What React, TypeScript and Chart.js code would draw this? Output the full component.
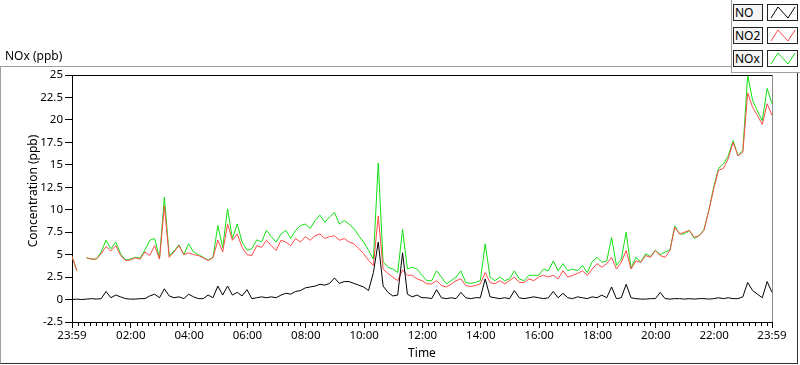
import React, { useEffect, useRef } from 'react';
import { Chart, registerables } from 'chart.js';

Chart.register(...registerables);

// Samples every 10 minutes starting at 23:59 of the previous day (minute 0) up to 23:59 (minute 1440)
const SAMPLE_MINUTES = 10;

const NO = [
  0.0, 0.05, 0.0, 0.05, 0.1, 0.05, 0.1, 0.9, 0.2, 0.5,
  0.3, 0.1, 0.05, 0.05, 0.1, 0.1, 0.4, 0.6, 0.2, 1.2,
  0.4, 0.2, 0.3, 0.1, 0.6, 0.3, 0.1, 0.1, 0.5, 0.2,
  1.5, 0.5, 1.5, 0.5, 0.8, 0.4, 1.1, 0.1, 0.2, 0.3,
  0.2, 0.3, 0.2, 0.5, 0.7, 0.6, 0.9, 1.0, 1.3, 1.4,
  1.5, 1.7, 1.6, 1.8, 2.4, 1.8, 2.0, 2.0, 1.8, 1.6,
  1.4, 1.0, 3.0, 6.4, 1.5, 0.8, 0.4, 0.5, 5.2, 0.6,
  0.3, 0.5, 0.2, 0.2, 0.1, 1.1, 0.2, 0.1, 0.2, 0.1,
  0.8, 0.2, 0.1, 0.2, 0.2, 2.3, 0.3, 0.2, 0.1, 0.2,
  0.1, 1.0, 0.2, 0.1, 0.2, 0.3, 0.2, 0.1, 0.2, 0.9,
  0.2, 0.7, 0.2, 0.1, 0.3, 0.2, 0.1, 0.3, 0.2, 0.5,
  0.2, 1.4, 0.1, 0.2, 1.7, 0.2, 0.1, 0.05, 0.05, 0.1,
  0.1, 0.8, 0.1, 0.05, 0.1, 0.1, 0.05, 0.1, 0.05, 0.1,
  0.1, 0.05, 0.1, 0.2, 0.1, 0.2, 0.1, 0.1, 0.3, 1.9,
  1.0, 0.6, 0.2, 2.0, 0.8,
];

const NO2 = [
  4.8, 3.2, null, 4.65, 4.5, 4.5, 5.1, 5.9, 5.4, 6.0,
  4.9, 4.35, 4.4, 4.65, 4.5, 5.3, 4.9, 6.0, 4.5, 10.4,
  4.7, 5.3, 6.0, 5.0, 5.2, 5.0, 4.9, 4.65, 4.35, 4.65,
  6.6, 5.3, 8.4, 6.6, 7.3, 5.8, 5.0, 4.9, 6.0, 5.8,
  6.6, 6.0, 5.46, 6.6, 6.4, 6.0, 6.8, 6.4, 7.0, 6.6,
  7.1, 7.3, 6.8, 7.0, 7.1, 6.6, 6.8, 6.4, 6.2, 5.65,
  5.1, 4.35, 3.8, 9.3, 3.4, 2.9, 2.5, 2.1, 3.3, 2.7,
  2.7, 2.3, 2.1, 1.75, 1.75, 2.1, 1.56, 1.4, 1.7, 2.1,
  2.3, 1.56, 1.45, 1.56, 1.75, 3.0, 1.9, 1.75, 2.1, 1.75,
  2.1, 2.5, 1.9, 1.9, 2.3, 2.1, 2.5, 2.7, 2.5, 2.7,
  2.3, 3.2, 2.5, 2.7, 2.9, 3.2, 2.7, 3.4, 4.0, 3.6,
  4.0, 4.7, 3.4, 4.15, 5.45, 3.4, 4.3, 4.15, 4.9, 4.7,
  5.45, 4.9, 4.7, 5.45, 8.05, 7.3, 7.5, 7.7, 6.94, 7.1,
  7.7, 9.9, 12.3, 14.4, 14.6, 15.7, 17.5, 16.0, 16.4, 23.0,
  21.4, 20.5, 19.5, 21.8, 20.5,
];

const NOX = [
  4.8, 3.2, null, 4.65, 4.5, 4.5, 5.3, 6.6, 5.65, 6.4,
  5.1, 4.4, 4.5, 4.7, 4.6, 5.5, 6.6, 6.8, 4.6, 11.4,
  4.9, 5.4, 6.1, 5.0, 6.2, 5.3, 5.0, 4.7, 4.4, 4.7,
  8.25, 5.8, 10.1, 6.8, 8.4, 6.4, 5.5, 5.65, 6.65, 6.4,
  7.7, 7.0, 6.4, 7.3, 7.7, 6.8, 7.7, 8.25, 8.4, 7.9,
  8.8, 9.4, 8.6, 9.2, 9.7, 8.4, 8.8, 8.4, 7.9, 7.1,
  6.4, 5.5, 4.5, 15.2, 4.2, 3.6, 3.4, 3.0, 7.8, 3.4,
  3.6, 3.4, 2.7, 2.1, 2.1, 3.2, 2.5, 1.75, 2.1, 2.5,
  3.2, 1.9, 1.8, 1.9, 2.1, 6.2, 2.5, 2.1, 2.5, 2.1,
  2.3, 3.2, 2.3, 2.1, 2.7, 2.7, 2.7, 3.4, 3.2, 4.3,
  3.2, 4.0, 3.2, 3.4, 3.2, 3.8, 3.0, 4.2, 4.7, 4.15,
  4.3, 6.9, 3.8, 4.5, 7.5, 3.5, 4.7, 4.2, 5.1, 4.8,
  5.5, 5.0, 5.3, 5.5, 8.2, 7.3, 7.3, 7.7, 6.8, 7.1,
  7.8, 9.9, 12.5, 14.6, 15.1, 16.0, 17.7, 16.0, 16.6, 25.0,
  22.2, 21.0, 19.9, 23.5, 21.8,
];

const X_TICK_MINUTES = [0, 121, 241, 361, 481, 601, 721, 841, 961, 1081, 1201, 1321, 1440];
const X_TICK_LABELS = ['23:59', '02:00', '04:00', '06:00', '08:00', '10:00', '12:00', '14:00', '16:00', '18:00', '20:00', '22:00', '23:59'];
const MINOR_TICK_STEP = 12;
const Y_MIN = -2.5;
const Y_MAX = 25;
const Y_STEP = 2.5;

const SERIES_NAMES = ['NO', 'NO2', 'NOx'];
const SERIES_COLORS = ['#000000', '#ff4848', '#12e012'];

const FONT = '"Noto Sans", "Open Sans", sans-serif';

const toPoints = (arr: (number | null)[]) => arr.map((v, i) => ({ x: i * SAMPLE_MINUTES, y: v }));

const framePlugin = {
  id: 'framePlugin',
  afterDraw(chart: any) {
    const ctx = chart.ctx;
    const xs = chart.scales.x;
    const a = chart.chartArea;
    ctx.save();
    ctx.lineWidth = 1;
    ctx.strokeStyle = '#000';
    for (let m = 1; m < 1440; m += MINOR_TICK_STEP) {
      if (X_TICK_MINUTES.some((t) => Math.abs(t - m) < 6)) continue;
      const px = Math.round(xs.getPixelForValue(m)) + 0.5;
      ctx.beginPath();
      ctx.moveTo(px, a.bottom);
      ctx.lineTo(px, a.bottom + 4);
      ctx.stroke();
    }
    ctx.beginPath();
    ctx.moveTo(a.left, Math.round(a.top) + 0.5);
    ctx.lineTo(a.right, Math.round(a.top) + 0.5);
    ctx.stroke();
    ctx.strokeStyle = '#8a8a8a';
    ctx.beginPath();
    ctx.moveTo(Math.round(a.right) + 0.5, a.top);
    ctx.lineTo(Math.round(a.right) + 0.5, a.bottom);
    ctx.stroke();
    ctx.restore();
  },
};

function LegendIcon({ color }: { color: string }) {
  return (
    <svg width="28" height="15" style={{ display: 'block' }}>
      <polyline points="2,13 9,2 19,13 26,2" fill="none" stroke={color} strokeWidth="1" />
    </svg>
  );
}

export default function App() {
  const canvasRef = useRef<HTMLCanvasElement | null>(null);

  useEffect(() => {
    if (!canvasRef.current) return;
    const chart = new Chart(canvasRef.current, {
      type: 'line',
      data: {
        datasets: [
          { label: SERIES_NAMES[0], data: toPoints(NO), borderColor: SERIES_COLORS[0], borderWidth: 1, pointRadius: 0, tension: 0, spanGaps: false },
          { label: SERIES_NAMES[1], data: toPoints(NO2), borderColor: SERIES_COLORS[1], borderWidth: 1, pointRadius: 0, tension: 0, spanGaps: false },
          { label: SERIES_NAMES[2], data: toPoints(NOX), borderColor: SERIES_COLORS[2], borderWidth: 1, pointRadius: 0, tension: 0, spanGaps: false },
        ],
      },
      options: {
        animation: false,
        responsive: false,
        devicePixelRatio: 1,
        layout: { padding: { left: 0, right: 28, top: 75, bottom: 0 } },
        plugins: { legend: { display: false }, tooltip: { enabled: false } },
        scales: {
          x: {
            type: 'linear',
            min: 0,
            max: 1440,
            afterBuildTicks: (scale: any) => {
              scale.ticks = X_TICK_MINUTES.map((v) => ({ value: v }));
            },
            afterFit: (scale: any) => {
              scale.height = 43;
            },
            ticks: {
              autoSkip: false,
              maxRotation: 0,
              padding: 1,
              color: '#000',
              font: { family: FONT, size: 11.5 },
              callback: (value: any) => {
                const i = X_TICK_MINUTES.indexOf(Number(value));
                return i >= 0 ? X_TICK_LABELS[i] : '';
              },
            },
            grid: { display: true, drawOnChartArea: false, drawTicks: true, tickLength: 6, color: '#000' },
            border: { display: true, color: '#000' },
            title: { display: true, text: 'Time', color: '#000', font: { family: FONT, size: 12 }, padding: { top: 0, bottom: 4 } },
          },
          y: {
            type: 'linear',
            min: Y_MIN,
            max: Y_MAX,
            afterFit: (scale: any) => {
              scale.width = 72;
            },
            ticks: {
              stepSize: Y_STEP,
              padding: 2,
              color: '#000',
              font: { family: FONT, size: 11.5 },
            },
            grid: { display: true, drawOnChartArea: false, drawTicks: true, tickLength: 7, color: '#000' },
            border: { display: true, color: '#000' },
          },
        },
      },
      plugins: [framePlugin],
    } as any);
    return () => chart.destroy();
  }, []);

  const boxStyle: React.CSSProperties = {
    position: 'absolute',
    height: 17,
    boxSizing: 'border-box',
    border: '1px solid #222',
    background: '#f4f4f4',
    fontFamily: FONT,
    fontSize: 12,
    lineHeight: '15px',
    color: '#000',
    paddingLeft: 1,
    overflow: 'hidden',
  };

  return (
    <div style={{ position: 'fixed', left: 0, top: 0, width: 800, height: 365, background: '#fff', overflow: 'hidden' }}>
      <div
        style={{
          position: 'absolute',
          left: 0,
          top: 66,
          width: 798,
          height: 298,
          boxSizing: 'border-box',
          borderTop: '1px solid #a0a0a0',
          borderLeft: '1px solid #a0a0a0',
          borderBottom: '1px solid #303030',
          borderRight: '1px solid #303030',
        }}
      />
      <canvas ref={canvasRef} width={800} height={365} style={{ position: 'absolute', left: 0, top: 0, width: 800, height: 365 }} />
      <div style={{ position: 'absolute', left: 5, top: 47, fontFamily: FONT, fontSize: 12, color: '#000', whiteSpace: 'nowrap' }}>NOx (ppb)</div>
      <div
        style={{
          position: 'absolute',
          left: 31.5,
          top: 191,
          transform: 'translate(-50%, -50%) rotate(-90deg)',
          fontFamily: FONT,
          fontSize: 12,
          color: '#000',
          whiteSpace: 'nowrap',
        }}
      >
        Concentration (ppb)
      </div>
      <div
        style={{
          position: 'absolute',
          left: 731,
          top: 0,
          width: 69,
          height: 73,
          boxSizing: 'border-box',
          background: '#fff',
          borderLeft: '1px solid #a0a0a0',
          borderBottom: '1px solid #a0a0a0',
        }}
      />
      {SERIES_NAMES.map((name, i) => (
        <React.Fragment key={name}>
          <div style={{ ...boxStyle, left: 733, top: 4 + i * 23, width: 30 }}>{name}</div>
          <div style={{ ...boxStyle, left: 767, top: 4 + i * 23, width: 31, background: '#fff' }}>
            <LegendIcon color={SERIES_COLORS[i]} />
          </div>
        </React.Fragment>
      ))}
    </div>
  );
}
